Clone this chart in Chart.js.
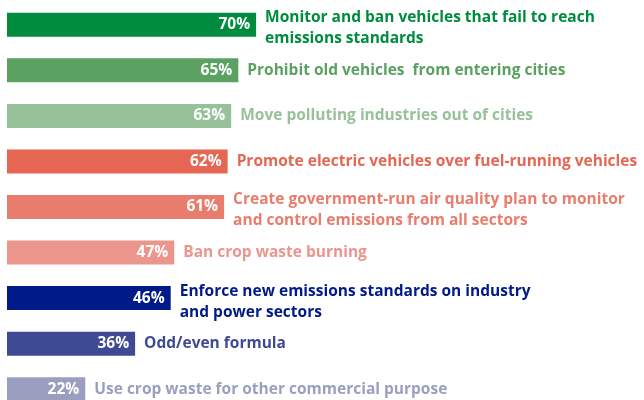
<!DOCTYPE html>
<html>
<head>
<meta charset="utf-8">
<script src="https://cdn.jsdelivr.net/npm/chart.js@4/dist/chart.umd.min.js"></script>
<style>
    html, body { margin: 0; padding: 0; background: #fff; overflow: hidden; }
    #wrap { width: 644px; height: 400px; overflow: hidden; }
    #wrap div { width: 644px; height: 412px; position: relative; }
</style>
</head>
<body>
<div id="wrap"><div><canvas id="measures"></canvas></div></div>
<script>
// Share of respondents backing each measure
const measures = [
    ['Monitor and ban vehicles that fail to reach', 'emissions standards'],
    ['Prohibit old vehicles  from entering cities'],
    ['Move polluting industries out of cities'],
    ['Promote electric vehicles over fuel-running vehicles'],
    ['Create government-run air quality plan to monitor', 'and control emissions from all sectors'],
    ['Ban crop waste burning'],
    ['Enforce new emissions standards on industry', 'and power sectors'],
    ['Odd/even formula'],
    ['Use crop waste for other commercial purpose']
];
const support = [70, 65, 63, 62, 61, 47, 46, 36, 22];
const barColors = ['#008C3E', '#5AA162', '#97C198', '#E56753', '#E97D6D', '#EC958D', '#001A89', '#3F4A94', '#9A9FC0'];

const FONT = '700 15.5px "Open Sans"';

// Draws the value inside each bar and the measure name after it
const barLabels = {
    id: 'barLabels',
    afterDatasetsDraw(chart) {
        const ctx = chart.ctx;
        const meta = chart.getDatasetMeta(0);
        ctx.save();
        ctx.font = FONT;
        ctx.textBaseline = 'middle';
        meta.data.forEach((bar, i) => {
            ctx.fillStyle = '#fff';
            ctx.textAlign = 'right';
            ctx.fillText(support[i] + '%', bar.x - 6, bar.y);

            ctx.fillStyle = barColors[i];
            ctx.textAlign = 'left';
            const lines = measures[i];
            if (lines.length === 1) {
                ctx.fillText(lines[0], bar.x + 9, bar.y);
            } else {
                ctx.fillText(lines[0], bar.x + 9, bar.y - 7);
                ctx.fillText(lines[1], bar.x + 9, bar.y + 14);
            }
        });
        ctx.restore();
    }
};

new Chart(document.getElementById('measures'), {
    type: 'bar',
    data: {
        labels: measures.map(l => l.join(' ')),
        datasets: [{
            data: support,
            backgroundColor: barColors,
            borderWidth: 0,
            barPercentage: 0.527,
            categoryPercentage: 1
        }]
    },
    options: {
        indexAxis: 'y',
        responsive: true,
        maintainAspectRatio: false,
        animation: false,
        layout: { padding: { left: 7, right: 0, top: 2, bottom: 0 } },
        plugins: {
            legend: { display: false },
            tooltip: { enabled: false }
        },
        scales: {
            x: { display: false, min: 0, max: 179, grid: { display: false } },
            y: { display: false, grid: { display: false } }
        }
    },
    plugins: [barLabels]
});
</script>
</body>
</html>
